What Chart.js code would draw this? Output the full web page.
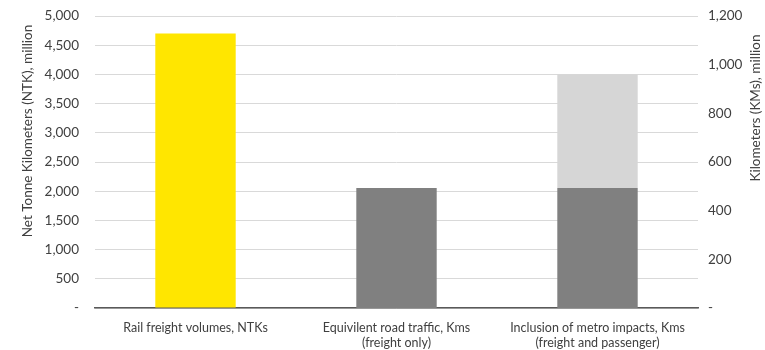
<!DOCTYPE html>
<html>
<head>
<meta charset="utf-8">
<script src="https://cdn.jsdelivr.net/npm/chart.js@4"></script>
<style>
  body { margin: 0; background: #fff; }
  #wrap { width: 765px; height: 350px; }
</style>
</head>
<body>
<div id="wrap"><canvas id="myChart"></canvas></div>
<script>
const categories = [
  'Rail freight volumes, NTKs',
  ['Equivilent road traffic, Kms', '(freight only)'],
  ['Inclusion of metro impacts, Kms', '(freight and passenger)']
];
const railNtk = [4700, null, null];
const roadKms = [null, 493, 493];
const metroKms = [null, null, 467];

const FONT = 'Lato, "Liberation Sans", sans-serif';
const txt = '#404040';

function dashZero(v) {
  return v === 0 ? '-' : v.toLocaleString('en-US');
}

// both axis titles read bottom to top
function vTitle(c, text, x, y) {
  c.save();
  c.translate(x, y);
  c.rotate(-Math.PI / 2);
  c.font = '13.5px ' + FONT;
  c.fillStyle = txt;
  c.textAlign = 'center';
  c.textBaseline = 'middle';
  c.fillText(text, 0, 0);
  c.restore();
}
const axisTitles = {
  id: 'axisTitles',
  afterDraw(chart) {
    vTitle(chart.ctx, 'Net Tonne Kilometers (NTK), million', 28, 131);
    vTitle(chart.ctx, 'Kilometers (KMs), million', 756, 108);
  }
};

// fixed box sizes so the plot area lines up
function fitY(w) {
  return function (s) {
    s.width = w;
    s.paddingTop = 0;
    s.paddingBottom = 0;
  };
}

const ctx = document.getElementById('myChart').getContext('2d');
const myChart = new Chart(ctx, {
  type: 'bar',
  data: {
    labels: categories,
    datasets: [{
      label: 'NTK',
      data: railNtk,
      backgroundColor: '#FFE600',
      yAxisID: 'y'
    }, {
      label: 'Road',
      data: roadKms,
      backgroundColor: '#808080',
      yAxisID: 'y2'
    }, {
      label: 'Metro',
      data: metroKms,
      backgroundColor: '#D6D6D6',
      yAxisID: 'y2'
    }]
  },
  options: {
    responsive: true,
    maintainAspectRatio: false,
    animation: false,
    categoryPercentage: 0.4,
    barPercentage: 1,
    layout: { padding: { top: 16, right: 0, left: 0, bottom: 0 } },
    plugins: {
      legend: { display: false },
      tooltip: { enabled: false }
    },
    scales: {
      x: {
        stacked: true,
        afterFit(s) { s.height = 42; },
        grid: { display: false },
        border: { color: '#595959', width: 1.5 },
        ticks: { color: txt, font: { family: FONT, size: 12.5 }, padding: 4, maxRotation: 0 }
      },
      y: {
        position: 'left',
        min: 0, max: 5000,
        afterFit: fitY(95),
        ticks: { stepSize: 500, callback: dashZero, color: txt, font: { family: FONT, size: 13.5 }, padding: 16 },
        grid: { color: '#D9D9D9', drawTicks: false },
        border: { display: false }
      },
      y2: {
        position: 'right',
        stacked: true,
        min: 0, max: 1200,
        afterFit: fitY(67),
        ticks: { stepSize: 200, callback: dashZero, color: txt, font: { family: FONT, size: 13.5 }, padding: 10 },
        grid: { display: false, drawTicks: false },
        border: { display: false }
      }
    }
  },
  plugins: [axisTitles]
});
</script>
</body>
</html>
